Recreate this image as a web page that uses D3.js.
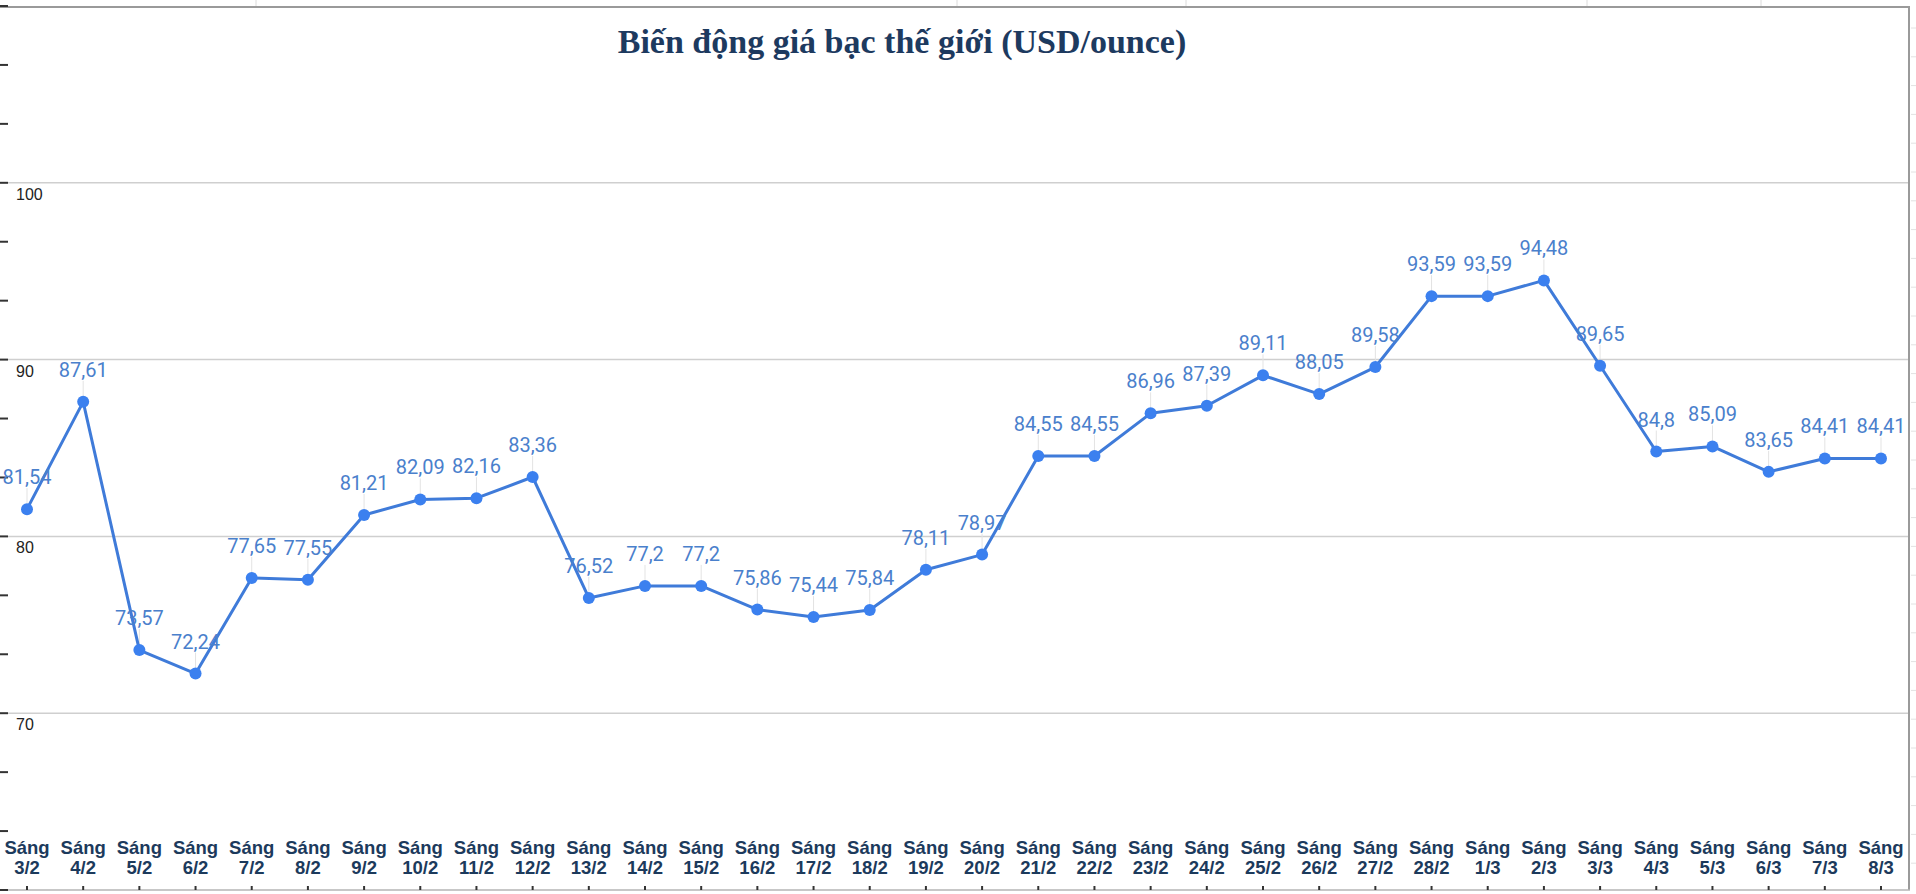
<!DOCTYPE html>
<html>
<head>
<meta charset="utf-8">
<script src="https://cdn.jsdelivr.net/npm/d3@7/dist/d3.min.js"></script>
<style>
  html, body { margin: 0; padding: 0; background: #fff; }
  svg { display: block; }
</style>
</head>
<body>
<svg id="chart" width="1916" height="894"></svg>
<script>
const title = "Biến động giá bạc thế giới (USD/ounce)";
const categories = ["3/2","4/2","5/2","6/2","7/2","8/2","9/2","10/2","11/2","12/2","13/2","14/2","15/2","16/2","17/2","18/2","19/2","20/2","21/2","22/2","23/2","24/2","25/2","26/2","27/2","28/2","1/3","2/3","3/3","4/3","5/3","6/3","7/3","8/3"];
const prefix = "Sáng";
const values = [81.54,87.61,73.57,72.24,77.65,77.55,81.21,82.09,82.16,83.36,76.52,77.2,77.2,75.86,75.44,75.84,78.11,78.97,84.55,84.55,86.96,87.39,89.11,88.05,89.58,93.59,93.59,94.48,89.65,84.8,85.09,83.65,84.41,84.41];
const yGridTicks = [70, 80, 90, 100];
const yDomain = [60, 110];
const sheetCols = [256, 957, 1186, 1587, 1761];

const svg = d3.select("#chart");
const W = 1916, H = 894;
const frameRight = 1909, frameTop = 7, frameBottom = 890;

const x = d3.scalePoint().domain(categories).range([27, 1881]);
const y = d3.scaleLinear().domain(yDomain).range([frameBottom, frameTop - 1]);

// spreadsheet background artifacts
svg.selectAll("line.sc").data(sheetCols).join("line")
  .attr("x1", d => d).attr("x2", d => d).attr("y1", 0).attr("y2", frameTop)
  .attr("stroke", "#dcdcdc").attr("stroke-width", 1);
const rowMarks = d3.range(28, 890, 28.8);
svg.selectAll("line.rm").data(rowMarks).join("line")
  .attr("x1", frameRight + 2).attr("x2", W).attr("y1", d => d).attr("y2", d => d)
  .attr("stroke", "#e2e2e2").attr("stroke-width", 1);

// gridlines
svg.append("g").selectAll("line").data(yGridTicks).join("line")
  .attr("x1", 8).attr("x2", frameRight)
  .attr("y1", d => y(d)).attr("y2", d => y(d))
  .attr("stroke", "#cfcfcf").attr("stroke-width", 1.5);

// frame
svg.append("line").attr("x1", 0).attr("x2", frameRight + 1).attr("y1", frameTop).attr("y2", frameTop)
  .attr("stroke", "#9a9a9a").attr("stroke-width", 2);
svg.append("line").attr("x1", frameRight).attr("x2", frameRight).attr("y1", frameTop).attr("y2", frameBottom)
  .attr("stroke", "#9a9a9a").attr("stroke-width", 2);
svg.append("line").attr("x1", 0).attr("x2", frameRight + 1).attr("y1", frameBottom).attr("y2", frameBottom)
  .attr("stroke", "#b5b5b5").attr("stroke-width", 1.5);

// left minor ticks
const minorTicks = d3.range(0, 16).map(i => yDomain[0] + i * 10 / 3);
svg.append("g").selectAll("line").data(minorTicks).join("line")
  .attr("x1", 0).attr("x2", 8)
  .attr("y1", d => y(d)).attr("y2", d => y(d))
  .attr("stroke", "#333").attr("stroke-width", 2);

// y labels
svg.append("g").selectAll("text").data(yGridTicks).join("text")
  .attr("x", 16).attr("y", d => y(d) + 17)
  .attr("font-family", "Liberation Sans, Arial, sans-serif")
  .attr("font-size", 16).attr("fill", "#222")
  .text(d => d);

// x ticks
svg.append("g").selectAll("line").data(categories).join("line")
  .attr("x1", d => x(d)).attr("x2", d => x(d))
  .attr("y1", frameBottom - 4).attr("y2", frameBottom)
  .attr("stroke", "#333").attr("stroke-width", 2);

// x labels
const xl = svg.append("g").selectAll("text").data(categories).join("text")
  .attr("text-anchor", "middle")
  .attr("font-family", "Liberation Sans, Arial, sans-serif")
  .attr("font-weight", "bold").attr("font-size", 18.5).attr("fill", "#1c3a5c");
xl.append("tspan").attr("x", d => x(d)).attr("y", 854).text(prefix);
xl.append("tspan").attr("x", d => x(d)).attr("y", 873.5).text(d => d);

// title
svg.append("text")
  .attr("x", 902).attr("y", 53).attr("text-anchor", "middle")
  .attr("font-family", "Liberation Serif, Times New Roman, serif")
  .attr("font-weight", "bold").attr("font-size", 34).attr("fill", "#1d3a5f")
  .text(title);

const pts = categories.map((c, i) => ({ c, v: values[i] }));

// leader lines
svg.append("g").selectAll("line").data(pts).join("line")
  .attr("x1", d => x(d.c)).attr("x2", d => x(d.c))
  .attr("y1", d => y(d.v) - 21).attr("y2", d => y(d.v) - 6)
  .attr("stroke", "#e3e3e3").attr("stroke-width", 1);

// line
svg.append("path").datum(pts)
  .attr("fill", "none").attr("stroke", "#3f7bd9").attr("stroke-width", 3)
  .attr("stroke-linejoin", "round")
  .attr("d", d3.line().x(d => x(d.c)).y(d => y(d.v)));

// markers
svg.append("g").selectAll("circle").data(pts).join("circle")
  .attr("cx", d => x(d.c)).attr("cy", d => y(d.v)).attr("r", 6)
  .attr("fill", "#3b80ef");

// data labels
svg.append("g").selectAll("text").data(pts).join("text")
  .attr("x", d => x(d.c)).attr("y", d => y(d.v) - 25)
  .attr("text-anchor", "middle")
  .attr("font-family", "Roboto, Liberation Sans, Arial, sans-serif")
  .attr("font-size", 20).attr("fill", "#4a80cc")
  .text(d => String(d.v).replace(".", ","));
</script>
</body>
</html>
